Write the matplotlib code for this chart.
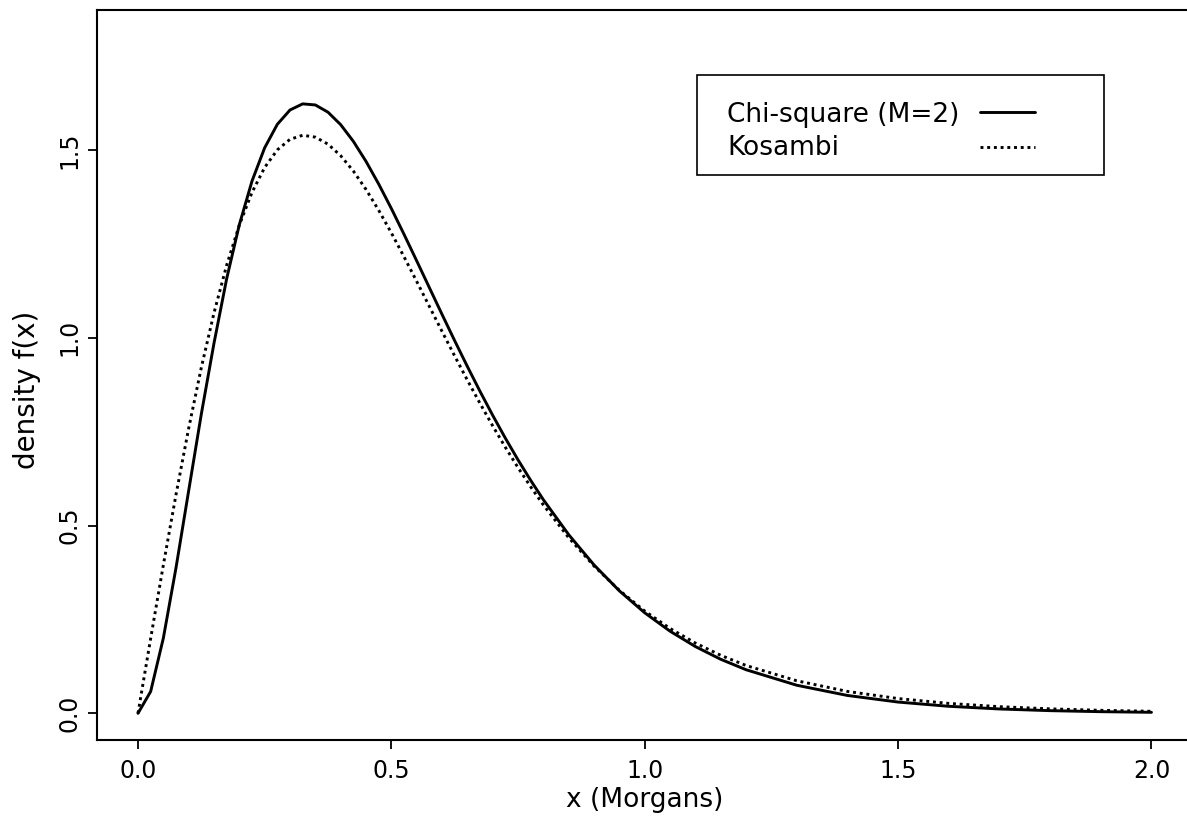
import matplotlib
matplotlib.use("Agg")
import matplotlib.pyplot as plt
from matplotlib.patches import Rectangle
from matplotlib.lines import Line2D

# values
x_morgans = [0.0, 0.025, 0.05, 0.075, 0.1, 0.125, 0.15, 0.175, 0.2, 0.225,
             0.25, 0.275, 0.3, 0.325, 0.35, 0.375, 0.4, 0.425, 0.45, 0.475,
             0.5, 0.525, 0.55, 0.575, 0.6, 0.625, 0.65, 0.675, 0.7, 0.725,
             0.75, 0.775, 0.8, 0.85, 0.9, 0.95, 1.0, 1.05, 1.1, 1.15,
             1.2, 1.3, 1.4, 1.5, 1.6, 1.7, 1.8, 1.9, 2.0]

chisq_m2 = [0.0, 0.0581, 0.2000, 0.3874, 0.5927, 0.7971, 0.9858, 1.1574, 1.3012, 1.4174,
            1.5061, 1.5686, 1.6067, 1.6230, 1.6201, 1.6008, 1.5676, 1.5232, 1.4698, 1.4095,
            1.3443, 1.2756, 1.2050, 1.1336, 1.0624, 0.9922, 0.9237, 0.8573, 0.7936, 0.7327,
            0.6749, 0.6203, 0.5688, 0.4757, 0.3951, 0.3261, 0.2677, 0.2187, 0.1778, 0.1439,
            0.1161, 0.0748, 0.0476, 0.0300, 0.0187, 0.0116, 0.0071, 0.0044, 0.0027]

kosambi = [0.0, 0.1993, 0.3947, 0.5823, 0.7587, 0.9209, 1.0664, 1.1933, 1.3004, 1.3872,
           1.4537, 1.5005, 1.5286, 1.5394, 1.5344, 1.5157, 1.4849, 1.4441, 1.3951, 1.3397,
           1.2794, 1.2158, 1.1502, 1.0836, 1.0171, 0.9515, 0.8873, 0.8252, 0.7655, 0.7084,
           0.6543, 0.6031, 0.5549, 0.4677, 0.3922, 0.3275, 0.2724, 0.2260, 0.1871, 0.1545,
           0.1274, 0.0867, 0.0583, 0.0393, 0.0264, 0.0177, 0.0119, 0.0080, 0.0054]

x_ticks = [0.0, 0.5, 1.0, 1.5, 2.0]
y_ticks = [0.0, 0.5, 1.0, 1.5]
series_labels = ['Chi-square (M=2)', 'Kosambi']

plt.rcParams['font.family'] = ['DejaVu Sans']

SOLID = dict(color='black', lw=2.1, solid_capstyle='round', solid_joinstyle='round')
DOTTED = dict(color='black', lw=2.1, linestyle=(0, (1, 1.3)))

fig = plt.figure(figsize=(11.87, 8.36), dpi=100)
# axes box runs slightly past the right edge, like the cropped original
ax = fig.add_axes([0.0821, 0.1144, 0.9221, 0.8732])

ax.plot(x_morgans, chisq_m2, **SOLID)
ax.plot(x_morgans, kosambi, **DOTTED)

ax.set_xlim(-0.08, 2.08)
ax.set_ylim(-0.072, 1.872)
ax.set_xticks(x_ticks)
ax.set_yticks(y_ticks)
ax.set_xticklabels([f'{v:.1f}' for v in x_ticks])
ax.set_yticklabels([f'{v:.1f}' for v in y_ticks], rotation=90, va='center')

ax.tick_params(direction='out', length=6.5, width=1.3, labelsize=17)
ax.tick_params(axis='x', pad=7)
ax.tick_params(axis='y', pad=5)
for s in ax.spines.values():
    s.set_linewidth(1.5)

ax.set_xlabel('x (Morgans)', fontsize=19, labelpad=3)
ax.set_ylabel('density f(x)', fontsize=20)
ax.yaxis.set_label_coords(-0.052, 0.48)

# R-style legend box: text on the left, line samples on the right
box = Rectangle((0.5478, 0.7745), 0.3718, 0.137, transform=ax.transAxes,
                facecolor='white', edgecolor='black', lw=1.2, zorder=5)
ax.add_patch(box)
text_x = 0.5752
seg_x = [0.8063, 0.8566]
rows = [(0.8471, 0.8608, SOLID), (0.8019, 0.8129, DOTTED)]
for label, (base_y, line_y, style) in zip(series_labels, rows):
    ax.text(text_x, base_y, label, transform=ax.transAxes, fontsize=19,
            va='baseline', ha='left', zorder=6)
    ax.add_line(Line2D(seg_x, [line_y, line_y], transform=ax.transAxes,
                       zorder=6, **style))

fig.savefig('out.png', dpi=100)
